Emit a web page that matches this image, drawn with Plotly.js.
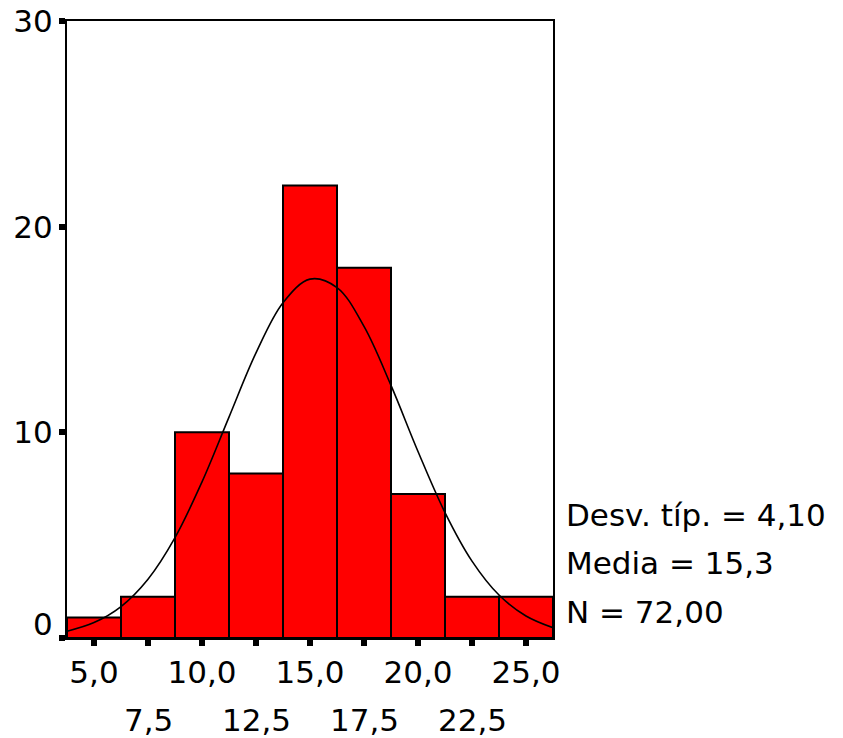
<!DOCTYPE html>
<html>
<head>
<meta charset="utf-8">
<script src="https://cdn.plot.ly/plotly-3.0.1.min.js"></script>
<style>html,body{margin:0;padding:0;background:#fff;}#chart{width:843px;height:738px;}</style>
</head>
<body>
<div id="chart"></div>
<script>
// Histogram bins (centers) and counts
var binCenters = [5.0, 7.5, 10.0, 12.5, 15.0, 17.5, 20.0, 22.5, 25.0];
var counts = [1, 2, 10, 8, 22, 18, 7, 2, 2];

// Normal curve points
var curveX = [3.75, 5, 6.25, 7.5, 8.75, 10, 11.25, 12.5, 13.75, 15, 16.25, 17.5, 18.75, 20, 21.25, 22.5, 23.75, 25, 26.25];
var curveY = [0.33, 0.75, 1.53, 2.86, 4.88, 7.59, 10.74, 13.86, 16.3, 17.45, 17.04, 15.15, 12.28, 9.07, 6.1, 3.74, 2.09, 1.07, 0.5];

// Tick labels
var xTickVals = [5.0, 7.5, 10.0, 12.5, 15.0, 17.5, 20.0, 22.5, 25.0];
var xTickRow1 = ['5,0', '', '10,0', '', '15,0', '', '20,0', '', '25,0'];
var xTickRow2 = ['', '7,5', '', '12,5', '', '17,5', '', '22,5', ''];
var yTickVals = [0, 10, 20, 30];
var yTickText = ['', '10', '20', '30'];

// Summary statistics
var statLines = ['Desv. típ. = 4,10', 'Media = 15,3', 'N = 72,00'];

var FONT = 'DejaVu Sans, Liberation Sans, Arial, sans-serif';
var FS = 31;

var traces = [
  {
    type: 'bar', x: binCenters, y: counts, width: 2.5,
    marker: {color: '#ff0000', line: {color: '#000', width: 2}},
    hoverinfo: 'skip'
  },
  {
    type: 'scatter', mode: 'lines', x: curveX, y: curveY,
    line: {color: '#000', width: 1.6, shape: 'spline'},
    hoverinfo: 'skip'
  }
];

var annotations = [];
xTickVals.forEach(function (v, i) {
  if (xTickRow2[i]) {
    annotations.push({
      x: v, y: 0, xref: 'x', yref: 'y', text: xTickRow2[i], showarrow: false,
      xanchor: 'center', yanchor: 'middle', yshift: -82,
      font: {family: FONT, size: FS, color: '#000'}
    });
  }
});
annotations.push({
  x: 0, y: 0, xref: 'paper', yref: 'y', text: '0', showarrow: false,
  xanchor: 'right', yanchor: 'middle', xshift: -12, yshift: 14,
  font: {family: FONT, size: FS, color: '#000'}
});
var statPix = [515, 563, 612];
statLines.forEach(function (t, i) {
  annotations.push({
    x: 1, y: (638 - statPix[i]) / (638 - 21), xref: 'paper', yref: 'paper', text: t, showarrow: false,
    xanchor: 'left', yanchor: 'middle', xshift: 11,
    font: {family: FONT, size: FS, color: '#000'}
  });
});

var layout = {
  width: 843, height: 738,
  margin: {l: 67, r: 290, t: 21, b: 100},
  paper_bgcolor: '#fff', plot_bgcolor: '#fff',
  showlegend: false,
  bargap: 0,
  font: {family: FONT, size: FS, color: '#000'},
  xaxis: {
    range: [3.75, 26.25], showgrid: false, zeroline: false,
    showline: true, mirror: true, linecolor: '#000', linewidth: 2,
    ticks: 'outside', ticklen: 6, tickwidth: 6, tickcolor: '#000',
    tickvals: xTickVals, ticktext: xTickRow1,
    tickfont: {family: FONT, size: FS, color: '#000'}
  },
  yaxis: {
    range: [0, 30], showgrid: false, zeroline: false,
    showline: true, mirror: true, linecolor: '#000', linewidth: 2,
    ticks: 'outside', ticklen: 6, tickwidth: 6, tickcolor: '#000',
    tickvals: yTickVals, ticktext: yTickText,
    tickfont: {family: FONT, size: FS, color: '#000'}
  },
  annotations: annotations
};

Plotly.newPlot('chart', traces, layout, {staticPlot: true, displayModeBar: false});
</script>
</body>
</html>
